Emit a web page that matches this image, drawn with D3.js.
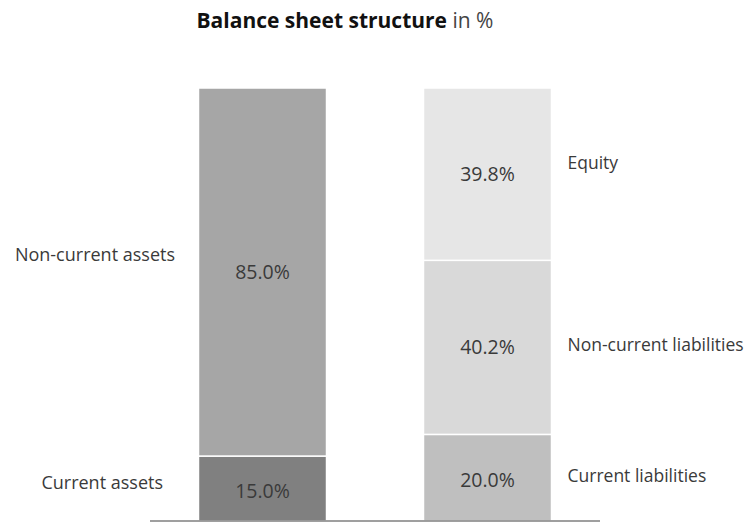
<!DOCTYPE html>
<html>
<head>
<meta charset="utf-8">
<script src="https://cdn.jsdelivr.net/npm/d3@7"></script>
<style>
  html, body { margin: 0; padding: 0; background: #fff; }
  svg { display: block; }
  text { font-family: "Open Sans", "Noto Sans", sans-serif; fill: #3a3a3a; }
</style>
</head>
<body>
<svg id="chart" width="747" height="523"></svg>
<script>
// ---- data ----
const bars = ["Assets", "Equity and liabilities"];
const leftSegments = ["Current assets", "Non-current assets"];
const leftValues = [15.0, 85.0];
const rightSegments = ["Current liabilities", "Non-current liabilities", "Equity"];
const rightValues = [20.0, 40.2, 39.8];
const leftColors = ["#808080", "#a6a6a6"];
const rightColors = ["#bfbfbf", "#d9d9d9", "#e6e6e6"];
const titleBold = "Balance sheet structure";
const titleRest = " in %";

const svg = d3.select("#chart");

const x = d3.scaleBand().domain(bars).range([150, 600]).paddingInner(0.431).paddingOuter(0.2155);
const y = d3.scaleLinear().domain([0, 100]).range([521, 88]);

function stack(vals, names, colors) {
  let acc = 0;
  return vals.map((v, i) => {
    const d = { name: names[i], value: v, y0: acc, y1: acc + v, color: colors[i], idx: i };
    acc += v;
    return d;
  });
}

const series = [
  { bar: bars[0], segs: stack(leftValues, leftSegments, leftColors), side: "left" },
  { bar: bars[1], segs: stack(rightValues, rightSegments, rightColors), side: "right" }
];

// baseline offsets (px) of category labels from segment centre
const labelDy = { "Current assets": 0, "Non-current assets": -11, "Current liabilities": 4, "Non-current liabilities": 4, "Equity": -5 };
const labelRight = { "Current assets": 163, "Non-current assets": 175 };

series.forEach(s => {
  const g = svg.append("g");
  g.selectAll("rect").data(s.segs).join("rect")
    .attr("x", x(s.bar))
    .attr("width", x.bandwidth())
    .attr("y", d => y(d.y1))
    .attr("height", d => y(d.y0) - y(d.y1))
    .attr("fill", d => d.color)
    .attr("stroke", "#fff")
    .attr("stroke-width", 1.5);

  g.selectAll("text.val").data(s.segs).join("text")
    .attr("class", "val")
    .attr("x", x(s.bar) + x.bandwidth() / 2)
    .attr("y", d => (y(d.y0) + y(d.y1)) / 2 + (d.idx === 0 ? 9 : 6.5))
    .attr("text-anchor", "middle")
    .style("font-size", "19.5px")
    .text(d => d.value.toFixed(1) + "%");

  g.selectAll("text.lab").data(s.segs).join("text")
    .attr("class", "lab")
    .attr("x", d => s.side === "left" ? labelRight[d.name] : x(s.bar) + x.bandwidth() + 16)
    .attr("y", d => (y(d.y0) + y(d.y1)) / 2 + labelDy[d.name])
    .attr("text-anchor", s.side === "left" ? "end" : "start")
    .style("font-size", s.side === "left" ? "18px" : "17.5px")
    .text(d => d.name);
});

// baseline
svg.append("line")
  .attr("x1", 150).attr("x2", 600)
  .attr("y1", y(0)).attr("y2", y(0))
  .attr("stroke", "#7f7f7f").attr("stroke-width", 1.5);

// title
const t = svg.append("text")
  .attr("x", 345).attr("y", 28)
  .attr("text-anchor", "middle")
  .style("font-size", "21px");
t.append("tspan").style("font-weight", "bold").style("fill", "#111").text(titleBold);
t.append("tspan").style("fill", "#444").text(titleRest);
</script>
</body>
</html>
